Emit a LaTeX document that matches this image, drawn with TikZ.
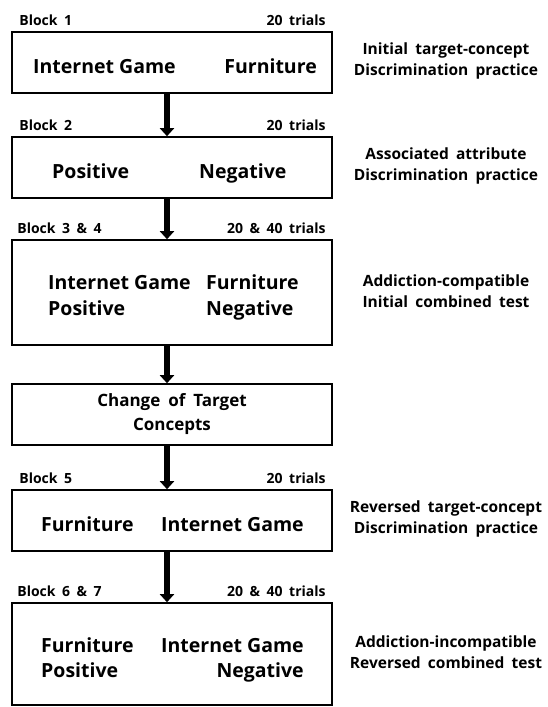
\documentclass[tikz,border=0pt]{standalone}
\usepackage{fontspec}
\setmainfont{Open Sans}
\newfontfamily\labelfont[WordSpace=1.8]{Open Sans}
\usetikzlibrary{positioning,arrows.meta}
\tikzset{
  stage/.style={draw, line width=1.6pt, minimum width=320pt, inner sep=0pt},
  item/.style={inner sep=0pt, font=\bfseries\fontsize{19.5}{26}\selectfont},
  blocklabel/.style={inner sep=0pt, font=\labelfont\bfseries\fontsize{14}{16}\selectfont},
  note/.style={inner sep=0pt, align=center, font=\labelfont\bfseries\fontsize{15.5}{21}\selectfont},
  flow/.style={line width=5.5pt, -{Triangle[length=8pt,width=14pt]}}
}

\begin{document}
\begin{tikzpicture}[x=1pt, y=-1pt]
            \useasboundingbox (0,0) rectangle (547,707);
            \coordinate (R) at (446,0);

            \draw node (A) [stage, minimum height=61pt] at (172,62.5) {};
            \draw node (B) [stage, minimum height=61pt] at (172,167.5) {};
            \draw node (C) [stage, minimum height=105pt] at (172,292.5) {};
            \draw node (D) [stage, minimum height=61pt, align=center,
                font=\labelfont\bfseries\fontsize{17}{24}\selectfont] at (172,414.5) {Change of Target\\Concepts};
            \draw node (E) [stage, minimum height=61pt] at (172,520.5) {};
            \draw node (F) [stage, minimum height=102pt] at (172,654) {};

            \foreach \s/\t in {A/B, B/C, C/D, D/E, E/F}
                \draw[flow] ([xshift=-5pt]\s.south) -- ([xshift=-5pt]\t.north);

            % block names and trial counts
            \draw node (A0) [blocklabel, above right = 5pt and 8pt of A.north west] {Block 1};
            \draw node (AN) [blocklabel, above left = 5pt and 7pt of A.north east] {20 trials};
            \draw node (B0) [blocklabel, above right = 5pt and 8pt of B.north west] {Block 2};
            \draw node (BN) [blocklabel, above left = 5pt and 7pt of B.north east] {20 trials};
            \draw node (C0) [blocklabel, above right = 5pt and 6pt of C.north west] {Block 3 \& 4};
            \draw node (CN) [blocklabel, above left = 5pt and 7pt of C.north east] {20 \& 40 trials};
            \draw node (E0) [blocklabel, above right = 5pt and 8pt of E.north west] {Block 5};
            \draw node (EN) [blocklabel, above left = 5pt and 7pt of E.north east] {20 trials};
            \draw node (F0) [blocklabel, above right = 5pt and 6pt of F.north west] {Block 6 \& 7};
            \draw node (FN) [blocklabel, above left = 5pt and 7pt of F.north east] {20 \& 40 trials};

            % categories
            \draw node (A1) [item, anchor=base west] at (33,73) {Internet Game};
            \draw node (A2) [item, anchor=base east] at (317,73) {Furniture};
            \draw node (B1) [item, anchor=base west] at (52,178) {Positive};
            \draw node (B2) [item, anchor=base west] at (199,178) {Negative};
            \draw node (C1) [item, anchor=base west] at (48,289) {Internet Game};
            \draw node (C2) [item, anchor=base west] at (48,315) {Positive};
            \draw node (C3) [item, anchor=base west] at (206,289) {Furniture};
            \draw node (C4) [item, anchor=base west] at (206,315) {Negative};
            \draw node (E1) [item, anchor=base west] at (41,531) {Furniture};
            \draw node (E2) [item, anchor=base west] at (161,531) {Internet Game};
            \draw node (F1) [item, anchor=base west] at (41,652) {Furniture};
            \draw node (F2) [item, anchor=base west] at (41,677) {Positive};
            \draw node (F3) [item, anchor=base west] at (161,652) {Internet Game};
            \draw node (F4) [item, anchor=base east] at (F3.east |- F2.base) {Negative};

            % what each block is
            \draw node (AR) [note] at ([yshift=1.5pt]A -| R) {Initial target-concept\\Discrimination practice};
            \draw node (BR) [note] at ([yshift=1.5pt]B -| R) {Associated attribute\\Discrimination practice};
            \draw node (CR) [note] at ([yshift=1.5pt]C -| R) {Addiction-compatible\\Initial combined test};
            \draw node (ER) [note] at ([yshift=1.5pt]E -| R) {Reversed target-concept\\Discrimination practice};
            \draw node (FR) [note] at ([yshift=1.5pt]F -| R) {Addiction-incompatible\\Reversed combined test};
\end{tikzpicture}
\end{document}
